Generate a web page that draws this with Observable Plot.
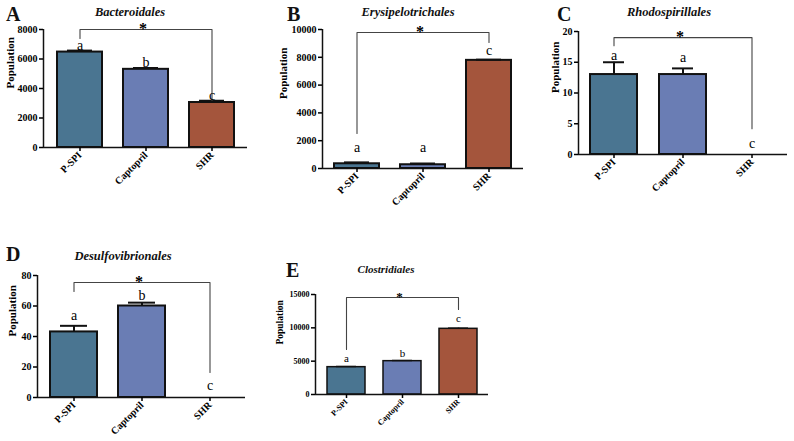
<!DOCTYPE html>
<html><head><meta charset="utf-8">
<script src="https://cdn.jsdelivr.net/npm/d3@7"></script>
<script src="https://cdn.jsdelivr.net/npm/@observablehq/plot@0.6"></script>
<style>
html,body{margin:0;padding:0;background:#fff;}
#root{position:relative;width:794px;height:441px;overflow:hidden;font-family:"Liberation Serif","Times New Roman",serif;}
#root svg{position:absolute;overflow:visible;}
.ttl{position:absolute;font-weight:bold;font-style:italic;font-size:12.5px;transform:translate(-50%,-50%);white-space:nowrap;color:#111;}
.lbl{position:absolute;font-weight:bold;font-size:20px;transform:translateY(-50%);color:#111;}
</style></head>
<body><div id="root"></div>
<script>
const groups = ["P-SPI", "Captopril", "SHR"];
const colors = ["#4a7591", "#6a7db4", "#a4553c"];

const titleA = "Bacteroidales", valuesA = [6470, 5300, 3050], errA = [100, 90, 120], lettersA = ["a", "b", "c"], letterYA = [6915, 5760, 3520], ticksA = [0, 2000, 4000, 6000, 8000], bracketA = [7390, 8000, 3190];
const titleB = "Erysipelotrichales", valuesB = [340, 270, 7780], errB = [100, 90, 50], lettersB = ["a", "a", "c"], letterYB = [1510, 1510, 8490], ticksB = [0, 2000, 4000, 6000, 8000, 10000], bracketB = [2520, 9780, 9060];
const titleC = "Rhodospirillales", valuesC = [13, 13, 0], errC = [2, 1, 0], lettersC = ["a", "a", "c"], letterYC = [16.1, 15.8, 1.8], ticksC = [0, 5, 10, 15, 20], bracketC = [17.7, 19, 4.2];
const titleD = "Desulfovibrionales", valuesD = [43, 60, 0], errD = [4, 2.2, 0], lettersD = ["a", "b", "c"], letterYD = [53.8, 66.9, 7.9], ticksD = [0, 20, 40, 60, 80], bracketD = [69.5, 75.4, 16.4];
const titleE = "Clostridiales", valuesE = [4100, 5000, 9850], errE = [100, 100, 100], lettersE = ["a", "b", "c"], letterYE = [5400, 6150, 11400], ticksE = [0, 5000, 10000, 15000], bracketE = [6750, 14550, 12750];

const root = document.getElementById("root");

function panel(cfg) {
  const {title, values, errs, letters, letterY, ticks, bracket, box, frame, pi, po, fs, lfs, ylfs, ydx, cap, sw, titlePos, tag, tagPos} = cfg;
  const [sx, sy, w, h] = box;
  const [L, R, T, B] = frame;
  const data = groups.map((g, i) => ({g, v: values[i], e: errs[i], top: values[i] + errs[i]}));
  const labels = groups.map((g, i) => ({g, letter: letters[i], ly: letterY[i]}));
  const withErr = data.filter(d => d.e > 0);
  const br = [
    {g: groups[0], y: bracket[0]}, {g: groups[0], y: bracket[1]},
    {g: groups[2], y: bracket[1]}, {g: groups[2], y: bracket[2]}
  ];
  const ymax = ticks[ticks.length - 1];
  const svg = Plot.plot({
    width: w, height: h,
    marginLeft: L - sx, marginRight: sx + w - R, marginTop: T - sy, marginBottom: sy + h - B,
    x: {domain: groups, paddingInner: pi, paddingOuter: po, label: null},
    y: {domain: [0, ymax], label: null},
    color: {domain: groups, range: colors},
    style: {fontFamily: "'Liberation Serif','Times New Roman',serif", fontWeight: "bold", fontSize: fs + "px", color: "black", background: "transparent"},
    marks: [
      Plot.barY(data, {x: "g", y: "v", fill: "g", stroke: "#111", strokeWidth: sw}),
      Plot.ruleX(withErr, {x: "g", y1: "v", y2: "top", stroke: "#111", strokeWidth: sw}),
      Plot.tickY(withErr, {x: "g", y: "top", stroke: "#111", strokeWidth: sw, insetLeft: cap, insetRight: cap}),
      Plot.line(br, {x: "g", y: "y", stroke: "#444", strokeWidth: 1.1}),
      Plot.text([{g: groups[1], y: bracket[1]}], {x: "g", y: "y", text: () => "*", dx: -3, dy: -1, fontSize: lfs + 2, fontWeight: "bold", fill: "black"}),
      Plot.text(labels, {x: "g", y: "ly", text: "letter", fontSize: lfs, fontWeight: "normal", fill: "#000", stroke: "none"}),
      Plot.ruleY([0], {stroke: "#111", strokeWidth: 1.5}),
      Plot.ruleX([{y1: 0, y2: ymax}], {x: null, y1: "y1", y2: "y2", dx: -(R - L) / 2, stroke: "#111", strokeWidth: 1.5}),
      Plot.axisY({ticks: ticks, tickSize: 4, tickPadding: 2, tickFormat: "d", strokeWidth: 1.5}),
      Plot.axisX({tickRotate: -45, tickSize: 4, tickPadding: 2, strokeWidth: 1.5}),
      Plot.text([{t: "Population"}], {text: "t", frameAnchor: "left", rotate: -90, dx: ydx, fontSize: ylfs, fontWeight: "bold", fill: "black"})
    ]
  });
  svg.style.left = sx + "px";
  svg.style.top = sy + "px";
  root.appendChild(svg);
  const t = document.createElement("div");
  t.className = "ttl"; t.textContent = title;
  t.style.left = titlePos[0] + "px"; t.style.top = titlePos[1] + "px";
  if (cfg.tfs) t.style.fontSize = cfg.tfs + "px";
  root.appendChild(t);
  const l = document.createElement("div");
  l.className = "lbl"; l.textContent = tag;
  l.style.left = tagPos[0] + "px"; l.style.top = tagPos[1] + "px";
  root.appendChild(l);
}

panel({title: titleA, values: valuesA, errs: errA, letters: lettersA, letterY: letterYA, ticks: ticksA, bracket: bracketA,
  box: [0, 15, 262, 200], frame: [43, 247, 29, 147], pi: 0.32, po: 0.2, fs: 10, lfs: 14, ylfs: 11, ydx: -33, cap: 10, sw: 2,
  titlePos: [130, 12], tag: "A", tagPos: [6, 14]});
panel({title: titleB, values: valuesB, errs: errB, letters: lettersB, letterY: letterYB, ticks: ticksB, bracket: bracketB,
  box: [262, 15, 266, 200], frame: [322, 523, 29, 168], pi: 0.32, po: 0.17, fs: 10, lfs: 14, ylfs: 11, ydx: -39, cap: 10, sw: 2,
  titlePos: [408, 12], tag: "B", tagPos: [287, 14]});
panel({title: titleC, values: valuesC, errs: errC, letters: lettersC, letterY: letterYC, ticks: ticksC, bracket: bracketC,
  box: [528, 15, 266, 200], frame: [578, 787, 31, 154], pi: 0.32, po: 0.17, fs: 10, lfs: 14, ylfs: 11, ydx: -23, cap: 13, sw: 2,
  titlePos: [669, 12], tag: "C", tagPos: [557, 14]});
panel({title: titleD, values: valuesD, errs: errD, letters: lettersD, letterY: letterYD, ticks: ticksD, bracket: bracketD,
  box: [0, 255, 262, 186], frame: [37, 245, 275, 397], pi: 0.31, po: 0.18, fs: 10, lfs: 14, ylfs: 11, ydx: -25, cap: 10, sw: 2,
  titlePos: [123, 256], tag: "D", tagPos: [6, 254]});
panel({title: titleE, values: valuesE, errs: errE, letters: lettersE, letterY: letterYE, ticks: ticksE, bracket: bracketE,
  box: [262, 255, 266, 186], frame: [315, 488, 294, 394], pi: 0.33, po: 0.2, fs: 8, lfs: 11, ylfs: 9.5, ydx: -36, cap: 9, sw: 1.5,
  titlePos: [386, 269], tag: "E", tagPos: [286, 270], tfs: 11});
</script>
</body></html>
